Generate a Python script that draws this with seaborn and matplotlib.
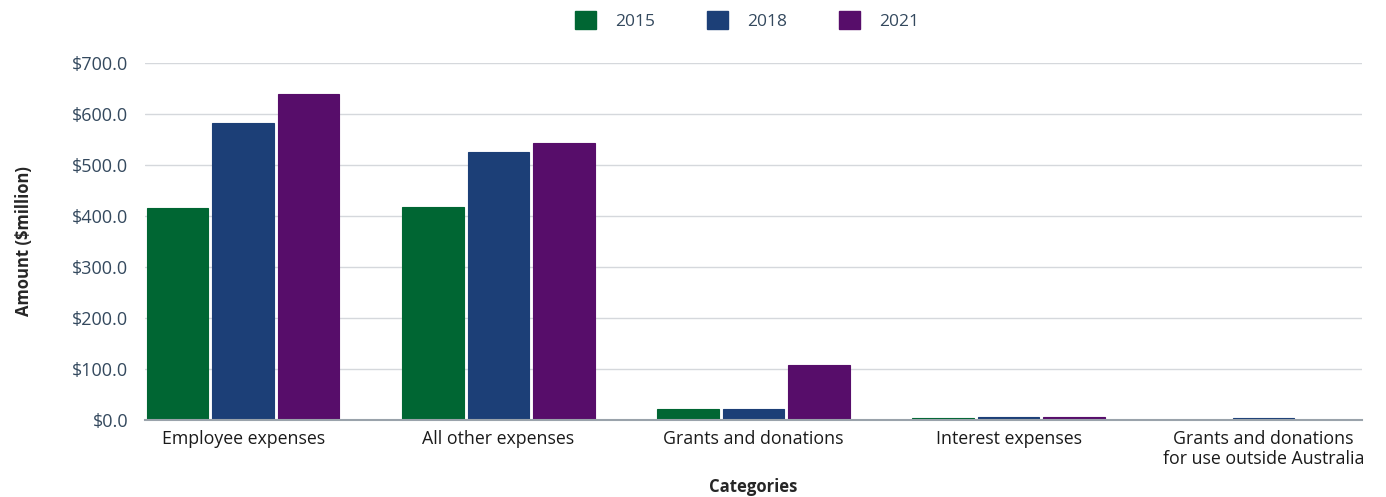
import matplotlib
matplotlib.use("Agg")
import matplotlib.pyplot as plt
import seaborn as sns
import pandas as pd
from matplotlib.ticker import FuncFormatter
from matplotlib.patches import Patch

categories = ["Employee expenses", "All other expenses", "Grants and donations",
              "Interest expenses", "Grants and donations\nfor use outside Australia"]
years = ["2015", "2018", "2021"]
v2015 = [415.5, 418.0, 21.5, 4.0, 0.0]
v2018 = [582.0, 525.0, 21.0, 6.0, 3.5]
v2021 = [639.0, 542.5, 108.0, 6.0, 0.4]
colors = ["#006633", "#1c3f77", "#570d6a"]

rows = []
for y, vals in zip(years, [v2015, v2018, v2021]):
    for c, v in zip(categories, vals):
        rows.append({"Category": c, "Year": y, "Amount": v})
df = pd.DataFrame(rows)

sns.set_theme(style="white")
plt.rcParams["font.family"] = ["Open Sans", "DejaVu Sans"]

fig = plt.figure(figsize=(13.86, 4.97), dpi=100)
ax = fig.add_axes([0.1046, 0.155, 0.878, 0.718])
sns.barplot(data=df, x="Category", y="Amount", hue="Year", palette=colors,
            saturation=1, width=0.77, gap=0.06, linewidth=0,
            ax=ax, legend=False)
for p in ax.patches:
    p.set_edgecolor(p.get_facecolor())
    p.set_linewidth(0.8)

ax.set_ylim(0, 700)
ax.set_yticks(range(0, 701, 100))
ax.yaxis.set_major_formatter(FuncFormatter(lambda v, p: f"${v:,.1f}".replace(",", "")))
ax.grid(axis="y", color="#d5d8dc", linewidth=1)
ax.set_axisbelow(True)
for s in ["top", "right", "left"]:
    ax.spines[s].set_visible(False)
ax.spines["bottom"].set_color("#9aa3ab")
ax.spines["bottom"].set_linewidth(1.5)
ax.spines["bottom"].set_zorder(5)
ax.tick_params(axis="y", labelsize=13, colors="#34495e", length=0, pad=12)
ax.tick_params(axis="x", labelsize=12.8, colors="#1a1a1a", length=0, pad=7)
ax.set_xlim(-0.385, 4.385)
ax.set_xlabel("Categories", fontsize=12, fontweight="bold", labelpad=7)
ax.set_ylabel("Amount ($million)", fontsize=12, fontweight="bold", labelpad=28)

handles = [Patch(facecolor=c, edgecolor=c, label=y) for c, y in zip(colors, years)]
fig.legend(handles=handles, loc="upper center", bbox_to_anchor=(0.539, 1.01), ncol=3,
           frameon=False, fontsize=12.5, handlelength=1.25, handleheight=1.25,
           columnspacing=2.95, handletextpad=1.1, labelcolor="#34495e")

fig.savefig("out.png", dpi=100)
